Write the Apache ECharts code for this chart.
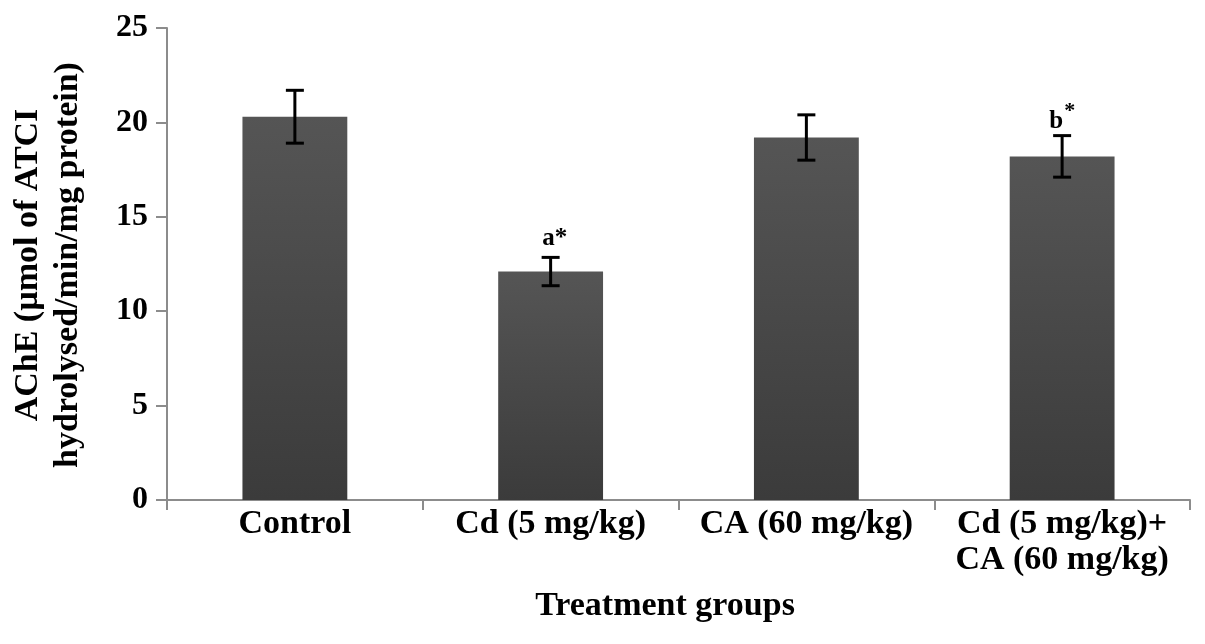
<!DOCTYPE html>
<html>
<head>
<meta charset="utf-8">
<script src="https://cdn.jsdelivr.net/npm/echarts@6/dist/echarts.min.js"></script>
<style>
html,body{margin:0;padding:0;background:#fff;}
#chart{width:1205px;height:644px;}
</style>
</head>
<body>
<div id="chart"></div>
<script>
const categories = ['Control', 'Cd (5 mg/kg)', 'CA (60 mg/kg)', 'Cd (5 mg/kg)+\nCA (60 mg/kg)'];
const means = [20.3, 12.1, 19.2, 18.2];
const errors = [1.4, 0.75, 1.2, 1.1];
const annotations = ['', 'a*', '', 'b*'];
const superscriptStar = [false, false, false, true];
const yTicks = { min: 0, max: 25, interval: 5 };
const yTitleLines = ['AChE (µmol of ATCI', 'hydrolysed/min/mg protein)'];
const xTitle = 'Treatment groups';

const FONT = '"Liberation Serif", "Times New Roman", serif';
const chart = echarts.init(document.getElementById('chart'));

const errData = categories.map((c, i) => [i, means[i], errors[i]]);

chart.setOption({
  animation: false,
  backgroundColor: '#fff',
  grid: { left: 167, right: 15, top: 28, bottom: 144, containLabel: false },
  xAxis: {
    type: 'category',
    data: categories,
    boundaryGap: true,
    axisLine: { show: true, lineStyle: { color: '#8c8c8c', width: 2 } },
    axisTick: { show: true, interval: 0, length: 10, lineStyle: { color: '#8c8c8c', width: 2 } },
    axisLabel: {
      interval: 0, margin: 6, color: '#000',
      fontFamily: FONT, fontWeight: 'bold', fontSize: 34, lineHeight: 36
    },
    splitLine: { show: false }
  },
  yAxis: {
    type: 'value',
    min: yTicks.min, max: yTicks.max, interval: yTicks.interval,
    axisLine: { show: true, lineStyle: { color: '#8c8c8c', width: 2 } },
    axisTick: { show: true, length: 11, lineStyle: { color: '#8c8c8c', width: 2 } },
    axisLabel: { margin: 19, color: '#000', fontFamily: FONT, fontWeight: 'bold', fontSize: 32 },
    splitLine: { show: false }
  },
  graphic: [
    {
      type: 'text', x: 48, y: 265, rotation: Math.PI / 2,
      style: {
        text: yTitleLines.join('\n'), fill: '#000',
        font: 'bold 34px ' + FONT, lineHeight: 40,
        align: 'center', verticalAlign: 'middle'
      }
    },
    {
      type: 'text', x: 665, y: 606,
      style: {
        text: xTitle, fill: '#000', font: 'bold 34px ' + FONT,
        align: 'center', verticalAlign: 'middle'
      }
    }
  ],
  series: [
    {
      type: 'bar',
      data: means,
      barWidth: '41%',
      itemStyle: {
        color: new echarts.graphic.LinearGradient(0, 0, 0, 1, [
          { offset: 0, color: '#555555' },
          { offset: 1, color: '#3b3b3b' }
        ])
      },
      z: 2
    },
    {
      type: 'custom',
      data: errData,
      z: 5,
      renderItem: function (params, api) {
        const x = api.value(0), m = api.value(1), e = api.value(2);
        const hi = api.coord([x, m + e]);
        const lo = api.coord([x, m - e]);
        const half = 9;
        const st = { stroke: '#000', lineWidth: 3 };
        const children = [
          { type: 'line', shape: { x1: hi[0], y1: hi[1], x2: lo[0], y2: lo[1] }, style: st },
          { type: 'line', shape: { x1: hi[0] - half, y1: hi[1], x2: hi[0] + half, y2: hi[1] }, style: st },
          { type: 'line', shape: { x1: lo[0] - half, y1: lo[1], x2: lo[0] + half, y2: lo[1] }, style: st }
        ];
        const idx = params.dataIndex;
        const ann = annotations[idx];
        if (ann) {
          if (superscriptStar[idx]) {
            const base = ann.replace('*', '');
            children.push({
              type: 'text', x: hi[0] + 1, y: hi[1] - 2,
              style: { text: base, fill: '#000', font: 'bold 25px ' + FONT, align: 'right', verticalAlign: 'bottom' }
            });
            children.push({
              type: 'text', x: hi[0] + 2, y: hi[1] - 35,
              style: { text: '*', fill: '#000', font: 'bold 22px ' + FONT, align: 'left', verticalAlign: 'top' }
            });
          } else {
            children.push({
              type: 'text', x: hi[0] + 4, y: hi[1] - 6,
              style: { text: ann, fill: '#000', font: 'bold 25px ' + FONT, align: 'center', verticalAlign: 'bottom' }
            });
          }
        }
        return { type: 'group', children: children };
      }
    }
  ]
});
</script>
</body>
</html>
